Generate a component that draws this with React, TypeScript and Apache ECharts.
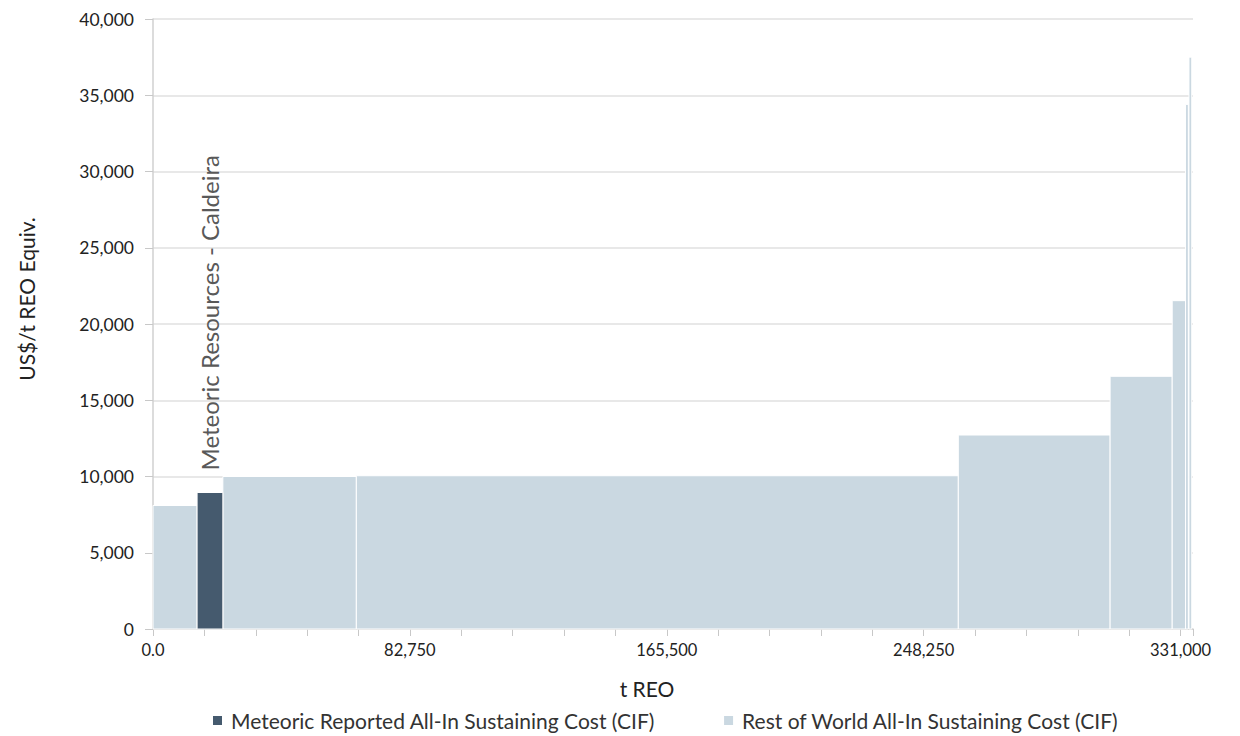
import React, { useEffect, useRef } from "react";
import * as echarts from "echarts";

// Cost-curve data (t REO cumulative, US$/t REO Equiv.)
const meteoricName = "Meteoric Reported All-In Sustaining Cost (CIF)";
const rowName = "Rest of World All-In Sustaining Cost (CIF)";
const annotation = "Meteoric Resources - Caldeira";

const meteoricStart = [14200];
const meteoricEnd = [22500];
const meteoricCost = [8950];

const rowStart = [0, 22500, 65500, 259400, 308300, 328300, 332600, 333700];
const rowEnd = [14200, 65500, 259400, 308300, 328300, 332600, 333500, 334600];
const rowCost = [8100, 10000, 10050, 12720, 16570, 21530, 34400, 37500];

const xMax = 335000;
const xInterval = 82750;
const yMax = 40000;
const yInterval = 5000;

const FONT = "Lato, 'Open Sans', sans-serif";
const LIGHT = "#cad8e1";
const DARK = "#455a6e";

function fmt(v: number) {
  if (v === 0) return "0.0";
  return v.toLocaleString("en-US");
}

export default function App() {
  const ref = useRef<HTMLDivElement>(null);
  useEffect(() => {
    if (!ref.current) return;
    const chart = echarts.init(ref.current, undefined, { renderer: "svg" });

    const mkData = (s: number[], e: number[], c: number[]) =>
      s.map((v, i) => [v, e[i], c[i]]);

    const renderRect = (withLabel: boolean) => (params: any, api: any) => {
      const x0 = api.value(0);
      const x1 = api.value(1);
      const y = api.value(2);
      const p0 = api.coord([x0, y]);
      const p1 = api.coord([x1, 0]);
      const rect = {
        type: "rect",
        shape: { x: p0[0], y: p0[1], width: p1[0] - p0[0], height: p1[1] - p0[1] },
        style: { fill: api.visual("color"), stroke: "#ffffff", lineWidth: 1 },
      };
      if (!withLabel) return rect;
      return {
        type: "group",
        children: [
          rect,
          {
            type: "text",
            x: (p0[0] + p1[0]) / 2,
            y: p0[1] - 22,
            rotation: Math.PI / 2,
            style: {
              text: annotation,
              fill: "#595959",
              font: `24px ${FONT}`,
              align: "left",
              verticalAlign: "middle",
            },
          },
        ],
      };
    };

    chart.setOption({
      animation: false,
      grid: { left: 145, right: 39, top: 11, bottom: 107, containLabel: false },
      legend: {
        top: 697,
        left: 200,
        itemGap: 69,
        itemWidth: 9,
        itemHeight: 9,
        icon: "rect",
        textStyle: { fontFamily: FONT, fontSize: 21, color: "#333", padding: [0, 0, 0, 4] },
        data: [meteoricName, rowName],
      },
      xAxis: {
        type: "value",
        min: 0,
        max: xMax,
        interval: xInterval,
        name: "t REO",
        nameLocation: "middle",
        nameGap: 49,
        nameTextStyle: { fontFamily: FONT, fontSize: 21, color: "#222", padding: [0, 52, 0, 0] },
        axisLine: { show: true, lineStyle: { color: "#d0d0d0", width: 1.5 } },
        axisTick: { show: true, length: 7, lineStyle: { color: "#c8c8c8" } },
        minorTick: { show: true, splitNumber: 5, length: 7, lineStyle: { color: "#c8c8c8" } },
        splitLine: { show: false },
        axisLabel: {
          formatter: fmt,
          fontFamily: FONT,
          fontSize: 16.5,
          color: "#222",
          margin: 12,
          showMaxLabel: false,
        },
      },
      yAxis: {
        type: "value",
        min: 0,
        max: yMax,
        interval: yInterval,
        name: "US$/t REO Equiv.",
        nameLocation: "middle",
        nameGap: 116,
        nameRotate: 90,
        nameTextStyle: { fontFamily: FONT, fontSize: 21, color: "#222", padding: [0, 0, 0, 50] },
        axisLine: { show: true, lineStyle: { color: "#d0d0d0", width: 1.5 } },
        axisTick: { show: true, length: 8, lineStyle: { color: "#c8c8c8" } },
        splitLine: { show: true, lineStyle: { color: "#e0e0e0", width: 1.5 } },
        axisLabel: {
          formatter: (v: number) => (v === 0 ? "0" : v.toLocaleString("en-US")),
          fontFamily: FONT,
          fontSize: 17.5,
          color: "#222",
          margin: 19,
        },
      },
      series: [
        {
          name: meteoricName,
          type: "custom",
          itemStyle: { color: DARK },
          renderItem: renderRect(true),
          encode: { x: [0, 1], y: 2 },
          data: mkData(meteoricStart, meteoricEnd, meteoricCost),
          z: 3,
        },
        {
          name: rowName,
          type: "custom",
          itemStyle: { color: LIGHT },
          renderItem: renderRect(false),
          encode: { x: [0, 1], y: 2 },
          data: mkData(rowStart, rowEnd, rowCost),
          z: 2,
        },
      ],
    });
    return () => chart.dispose();
  }, []);
  return <div ref={ref} style={{ width: 1224, height: 728 }} />;
}
